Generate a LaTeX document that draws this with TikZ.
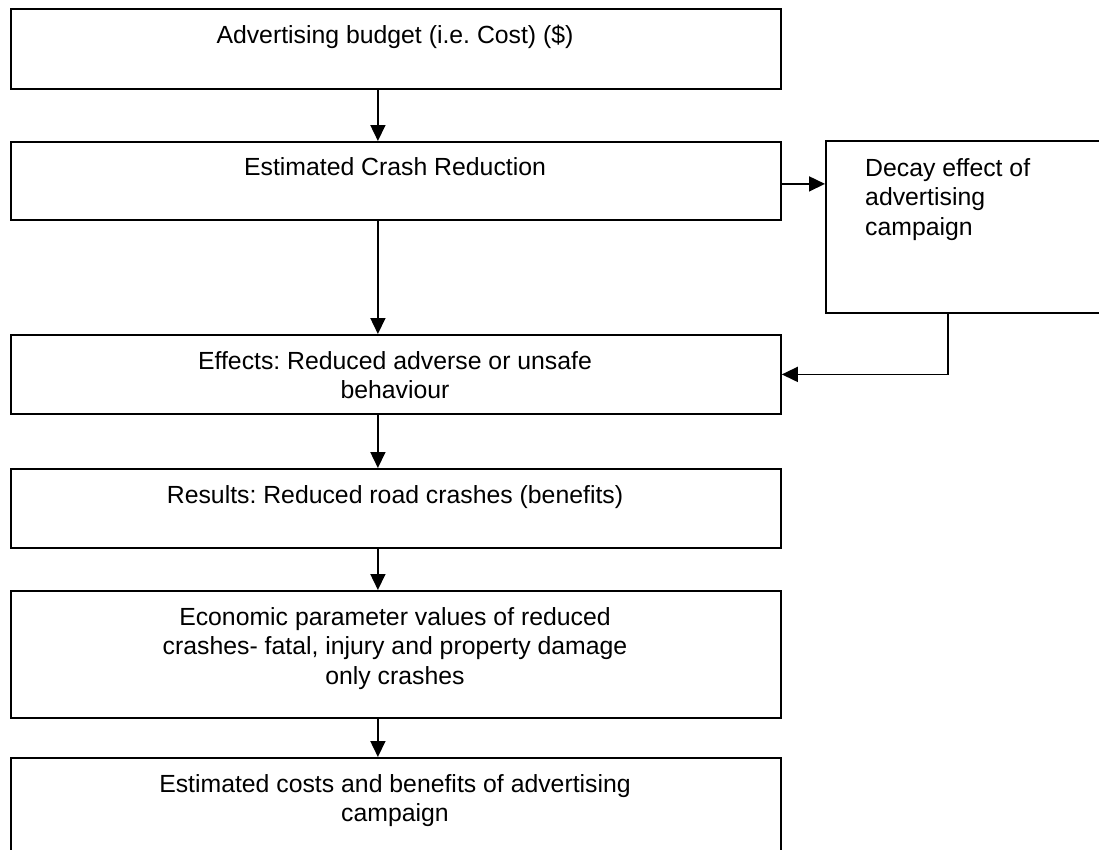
\documentclass[tikz,border=0pt]{standalone}
\usepackage{fontspec}
\setmainfont{Liberation Sans}
\usetikzlibrary{arrows.meta}
\frenchspacing
\begin{document}
\begin{tikzpicture}[x=1pt,y=-1pt,
  stage/.style={draw=black,line width=1.8pt,inner sep=0pt,anchor=north west},
  boxtext/.style={anchor=north,inner sep=0pt,align=center,font=\fontsize{24.8pt}{29.5pt}\selectfont},
  flow/.style={line width=1.6pt,-{Triangle[length=16pt,width=15pt]}}]
\useasboundingbox (0,0) rectangle (1099,849);
\fill[white] (0,0) rectangle (1099,849);

% main column of stages
\node[stage,minimum width=770pt,minimum height=80pt] (b1) at (10,8) {};
\node[stage,minimum width=770pt,minimum height=78pt] (b2) at (10,141) {};
\node[stage,minimum width=770pt,minimum height=79pt] (b4) at (10,334) {};
\node[stage,minimum width=770pt,minimum height=79pt] (b5) at (10,468) {};
\node[stage,minimum width=770pt,minimum height=127pt] (b6) at (10,590) {};
\node[stage,minimum width=770pt,minimum height=94pt] (b7) at (10,757) {};
% side box
\node[stage,minimum width=276pt,minimum height=172pt] (decay) at (825,140) {};

% texts
\node[boxtext] (t1) at (395,22.35) {\strut Advertising budget (i.e. Cost) (\$)};
\node[boxtext] (t2) at (395,154.35) {\strut Estimated Crash Reduction};
\node[boxtext] (t4) at (395,348.35) {\strut Effects: Reduced adverse or unsafe\\behaviour};
\node[boxtext] (t5) at (395,482.35) {\strut Results: Reduced road crashes (benefits)};
\node[boxtext] (t6) at (395,604.35) {\strut Economic parameter values of reduced\\crashes- fatal, injury and property damage\\only crashes};
\node[boxtext] (t7) at (395,771.35) {\strut Estimated costs and benefits of advertising\\campaign};
\node[boxtext,anchor=north west,align=left] (td) at (865,155.35) {\strut Decay effect of\\advertising\\campaign};

% connectors
\draw[flow] ([xshift=-18pt]b1.south) -- ([xshift=-18pt]b2.north);
\draw[flow] ([xshift=-18pt]b2.south) -- ([xshift=-18pt]b4.north);
\draw[flow] ([xshift=-18pt]b4.south) -- ([xshift=-18pt]b5.north);
\draw[flow] ([xshift=-18pt]b5.south) -- ([xshift=-18pt]b6.north);
\draw[flow] ([xshift=-18pt]b6.south) -- ([xshift=-18pt]b7.north);
\draw[flow] ([yshift=-3pt]b2.east) -- ([yshift=-3pt]b2.east -| decay.west);
\draw[flow] ([xshift=-16pt]decay.south) |- (b4.east);
\end{tikzpicture}
\end{document}
